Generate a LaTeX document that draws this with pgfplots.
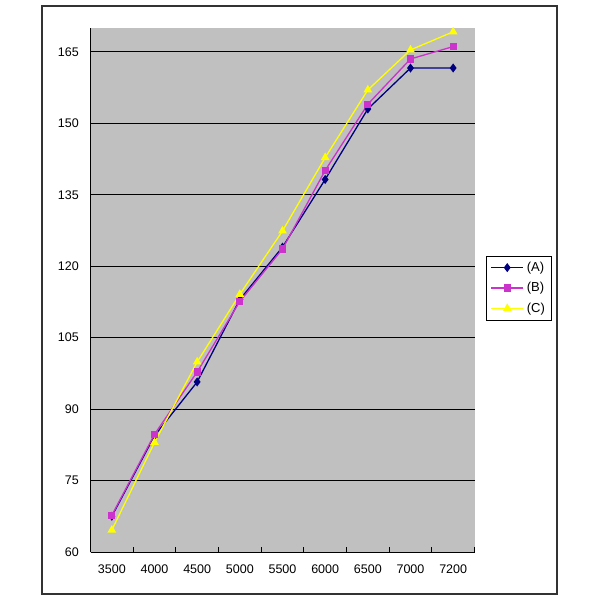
\documentclass[border=0pt]{standalone}
\usepackage{pgfplots}
\pgfplotsset{compat=1.18}
\usepackage{fontspec}
\setmainfont{Liberation Sans}
\definecolor{plotgray}{RGB}{192,192,192}
\definecolor{seriesA}{RGB}{0,0,128}
\definecolor{seriesB}{RGB}{204,51,204}
\definecolor{seriesC}{RGB}{255,255,0}

\begin{document}
\begin{tikzpicture}[x=1pt,y=1pt]
\useasboundingbox (0,0) rectangle (600,600);
\fill[white] (0,0) rectangle (600,600);
\draw[black!80,line width=1.2pt] (42,6) rectangle (557,594);
\begin{axis}[
    at={(90.5pt,48pt)}, anchor=south west,
    scale only axis, width=384pt, height=524pt,
    xmin=-0.5, xmax=8.5, ymin=60, ymax=170,
    axis x line=bottom, axis y line=left,
    axis line style={-, black, line width=1pt},
    axis background/.style={fill=plotgray},
    xtick={0,...,8},
    xticklabels={3500,4000,4500,5000,5500,6000,6500,7000,7200},
    major x tick style={draw=none},
    minor xtick={-0.5,0.5,...,8.5},
    minor x tick style={black, line width=0.8pt},
    minor tick length=5pt,
    xtick align=inside,
    ytick={60,75,...,165},
    major y tick style={draw=none},
    ymajorgrids,
    major grid style={black, line width=1pt},
    tick label style={font=\fontsize{12.5}{14}\selectfont},
    /pgf/number format/assume math mode=true,
    xticklabel style={yshift=-9pt},
    yticklabel style={xshift=-6pt},
    legend cell align=left,
    legend style={at={(1.031,0.565)}, anchor=north west, draw=black,
        fill=white, font=\fontsize{13}{15}\selectfont, row sep=5.5pt,
        inner xsep=4pt, inner ysep=4pt,
        /tikz/every odd column/.append style={column sep=1pt}},
    legend image code/.code={\draw[mark repeat=2,mark phase=2,#1]
        plot coordinates {(0pt,0pt) (16pt,0pt) (32pt,0pt)};},
]
\addplot[seriesA, line width=1.3pt, mark=diamond*, mark size=3.5pt,
    mark options={fill=seriesA}] coordinates {
    (0,67.5) (1,84.4) (2,95.7) (3,113.0) (4,124.0) (5,138.2) (6,153.0) (7,161.6) (8,161.6)};
\addlegendentry{(A)}
\addplot[seriesB, line width=1.3pt, mark=square*, mark size=3pt,
    mark options={fill=seriesB}] coordinates {
    (0,67.7) (1,84.7) (2,97.8) (3,112.6) (4,123.6) (5,140.1) (6,154.0) (7,163.5) (8,166.1)};
\addlegendentry{(B)}
\addplot[seriesC, line width=1.3pt, mark=triangle*, mark size=3.8pt,
    mark options={fill=seriesC}] coordinates {
    (0,64.6) (1,83.0) (2,99.9) (3,114.1) (4,127.4) (5,142.8) (6,157.0) (7,165.4) (8,169.2)};
\addlegendentry{(C)}
\end{axis}
\end{tikzpicture}
\end{document}
